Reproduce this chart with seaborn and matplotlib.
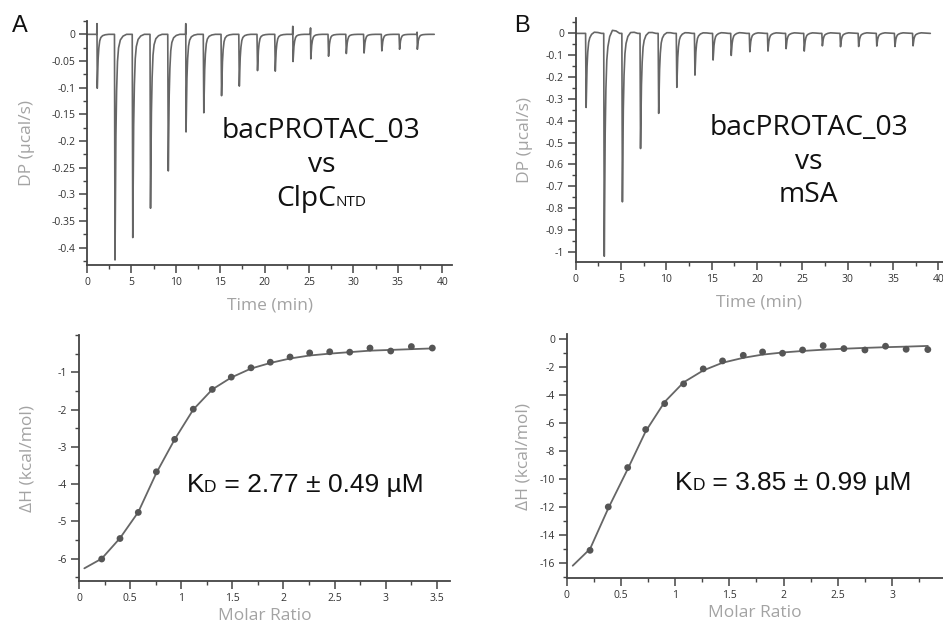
import numpy as np
import pandas as pd
import seaborn as sns
import matplotlib.pyplot as plt
from matplotlib.ticker import MultipleLocator, FuncFormatter
from matplotlib.offsetbox import TextArea, HPacker, VPacker, AnnotationBbox

sns.set_style('ticks')
plt.rcParams['font.family'] = ['Open Sans', 'DejaVu Sans']

# ---- raw thermograms (DP vs time) ----
# injection times in min (same protocol for both runs)
inj_time = [1.15, 3.15, 5.15, 7.15, 9.15, 11.15, 13.15, 15.15, 17.15, 19.2,
            21.2, 23.2, 25.2, 27.2, 29.2, 31.2, 33.2, 35.2, 37.2]
# depth of each injection peak, µcal/s
peak_A = [-0.101, -0.423, -0.381, -0.326, -0.256, -0.183, -0.147, -0.115, -0.097, -0.068,
          -0.069, -0.051, -0.046, -0.041, -0.036, -0.035, -0.031, -0.028, -0.028]
peak_B = [-0.339, -1.02, -0.771, -0.527, -0.366, -0.247, -0.191, -0.122, -0.101, -0.084,
          -0.081, -0.070, -0.081, -0.057, -0.061, -0.060, -0.058, -0.060, -0.057]
# small upward blip right before an injection (A) / overshoot after a peak (B)
spike_A = [0.02, 0, 0, 0, 0, 0.02, 0, 0, 0, 0, 0, 0.015, 0.012, 0, 0, 0, 0, 0, 0.004]
bump_B = [0.008, 0.022, 0.01, 0.008, 0.006, 0.005, 0.004, 0.004, 0.004, 0.003,
          0.003, 0.003, 0.003, 0.003, 0.003, 0.003, 0.003, 0.003, 0.003]
# shape of a single peak: min after injection -> fraction of depth
shape_dt = [-0.06, 0.0, 0.05, 0.10, 0.18, 0.28, 0.40, 0.60, 0.90, 1.3, 1.7]
shape_frac = [0.0, 1.0, 0.70, 0.45, 0.25, 0.12, 0.06, 0.025, 0.008, 0.0, 0.0]
shape_bump = [0.0, 0.0, 0.0, 0.0, 0.0, 0.0, 0.0, 0.5, 1.0, 0.5, 0.0]
trace_end = 39.1

# ---- integrated heats (isotherms) ----
ratio_A = [0.222, 0.401, 0.580, 0.757, 0.936, 1.118, 1.304, 1.490, 1.683, 1.872,
           2.065, 2.257, 2.453, 2.649, 2.847, 3.050, 3.252, 3.457]
dH_A = [-6.01, -5.46, -4.76, -3.67, -2.80, -1.99, -1.46, -1.13, -0.88, -0.73,
        -0.59, -0.48, -0.45, -0.46, -0.35, -0.43, -0.31, -0.35]
fit_x_A = [0.052] + ratio_A
fit_y_A = [-6.26, -6.0, -5.45, -4.75, -3.7, -2.8, -2.0, -1.46, -1.14, -0.9,
           -0.75, -0.63, -0.55, -0.5, -0.46, -0.42, -0.4, -0.38, -0.36]

ratio_B = [0.215, 0.383, 0.562, 0.728, 0.903, 1.078, 1.259, 1.437, 1.628, 1.806,
           1.990, 2.175, 2.365, 2.556, 2.750, 2.940, 3.130, 3.330]
dH_B = [-15.1, -12.0, -9.19, -6.47, -4.62, -3.21, -2.14, -1.57, -1.17, -0.93,
        -1.02, -0.79, -0.48, -0.69, -0.79, -0.52, -0.74, -0.76]
fit_x_B = [0.055] + ratio_B
fit_y_B = [-16.2, -15.0, -12.1, -9.3, -6.6, -4.5, -3.1, -2.25, -1.7, -1.35,
           -1.12, -0.97, -0.86, -0.77, -0.7, -0.64, -0.59, -0.55, -0.5]

line_col = '#666666'
label_col = '#a3a3a3'
tick_col = '#333333'


def build_trace(depths, pre=None, bumps=None):
    t, y = [0.0], [0.0]
    for i, t0 in enumerate(inj_time):
        for k, (dt, fr) in enumerate(zip(shape_dt, shape_frac)):
            if k == 1 and pre is not None and pre[i] > 0:
                t.append(t0 - 0.03)
                y.append(pre[i])
            val = depths[i] * fr
            if bumps is not None:
                val += bumps[i] * shape_bump[k]
            t.append(t0 + dt)
            y.append(val)
    t.append(trace_end)
    y.append(0.0)
    return pd.DataFrame({'time': t, 'dp': y})


def style_axis(ax, xlabel, ylabel, ypad, xpad=7):
    sns.despine(ax=ax)
    for s in ['left', 'bottom']:
        ax.spines[s].set_color('#444444')
        ax.spines[s].set_linewidth(1.3)
    ax.tick_params(which='major', direction='out', length=5.5, width=1.1,
                   color='#444444', labelcolor=tick_col, labelsize=7.5, pad=3)
    ax.tick_params(which='minor', direction='out', length=3, width=1.0, color='#444444')
    ax.xaxis.set_major_formatter(FuncFormatter(lambda v, p: '{:g}'.format(round(v, 3))))
    ax.yaxis.set_major_formatter(FuncFormatter(lambda v, p: '{:g}'.format(round(v, 3))))
    ax.set_xlabel(xlabel, color=label_col, fontsize=12.5, labelpad=xpad)
    ax.set_ylabel(ylabel, color=label_col, fontsize=12.5, labelpad=ypad)


def title_box(ax, x, y, target):
    main = dict(fontsize=20.3, color='#111111', family='Open Sans')
    parts = [TextArea('bacPROTAC_03', textprops=main),
             TextArea('vs', textprops=main)]
    if target == 'ClpC':
        sub = HPacker(children=[TextArea('ClpC', textprops=main),
                                TextArea('NTD', textprops=dict(fontsize=11, color='#111111', family='Open Sans'))],
                      align='baseline', pad=0, sep=0)
        parts.append(sub)
    else:
        parts.append(TextArea(target, textprops=main))
    box = VPacker(children=parts, align='center', pad=0, sep=4)
    ab = AnnotationBbox(box, (x, y), xycoords='data', frameon=False, box_alignment=(0.5, 0.5))
    ax.add_artist(ab)


def kd_box(ax, x, y, text):
    big = dict(fontsize=19, color='#111111', family='Liberation Sans')
    small = dict(fontsize=12.5, color='#111111', family='Liberation Sans')
    box = HPacker(children=[TextArea('K', textprops=big), TextArea('D', textprops=small),
                            TextArea(text, textprops=big)],
                  align='baseline', pad=0, sep=0)
    ab = AnnotationBbox(box, (x, y), xycoords='data', frameon=False, box_alignment=(0.5, 0.5))
    ax.add_artist(ab)


fig = plt.figure(figsize=(9.43, 6.25), dpi=100)
axA1 = fig.add_axes([0.0923, 0.576, 0.387, 0.3904])
axB1 = fig.add_axes([0.6105, 0.5803, 0.3895, 0.3904])
axA2 = fig.add_axes([0.0838, 0.0704, 0.3934, 0.3936])
axB2 = fig.add_axes([0.601, 0.0747, 0.399, 0.3904])

# thermogram A
trA = build_trace(peak_A, pre=spike_A)
sns.lineplot(data=trA, x='time', y='dp', ax=axA1, color=line_col, lw=1.2,
             estimator=None, sort=False)
axA1.set_xlim(0, 41.1)
axA1.set_ylim(-0.4325, 0.025)
axA1.xaxis.set_major_locator(MultipleLocator(5))
axA1.xaxis.set_minor_locator(MultipleLocator(2.5))
axA1.yaxis.set_major_locator(MultipleLocator(0.05))
axA1.yaxis.set_minor_locator(MultipleLocator(0.025))
style_axis(axA1, 'Time (min)', 'DP (µcal/s)', 12)
title_box(axA1, 26.4, -0.245, 'ClpC')

# thermogram B
trB = build_trace(peak_B, bumps=bump_B)
sns.lineplot(data=trB, x='time', y='dp', ax=axB1, color=line_col, lw=1.2,
             estimator=None, sort=False)
axB1.set_xlim(0, 40.5)
axB1.set_ylim(-1.048, 0.069)
axB1.xaxis.set_major_locator(MultipleLocator(5))
axB1.xaxis.set_minor_locator(MultipleLocator(2.5))
axB1.yaxis.set_major_locator(MultipleLocator(0.1))
axB1.yaxis.set_minor_locator(MultipleLocator(0.05))
style_axis(axB1, 'Time (min)', 'DP (µcal/s)', 9)
title_box(axB1, 25.7, -0.588, 'mSA')

# isotherm A
sns.lineplot(x=fit_x_A, y=fit_y_A, ax=axA2, color=line_col, lw=1.3, estimator=None, sort=False)
sns.scatterplot(x=ratio_A, y=dH_A, ax=axA2, color='#555555', s=24, edgecolor='none', zorder=3)
axA2.set_xlim(0, 3.63)
axA2.set_ylim(-6.6, 0.0)
axA2.set_yticks([-6, -5, -4, -3, -2, -1])
axA2.xaxis.set_major_locator(MultipleLocator(0.5))
axA2.xaxis.set_minor_locator(MultipleLocator(0.25))
axA2.yaxis.set_minor_locator(MultipleLocator(0.5))
style_axis(axA2, 'Molar Ratio', 'ΔH (kcal/mol)', 16, xpad=3)
kd_box(axA2, 2.21, -4.02, ' = 2.77 ± 0.49 µM')

# isotherm B
sns.lineplot(x=fit_x_B, y=fit_y_B, ax=axB2, color=line_col, lw=1.3, estimator=None, sort=False)
sns.scatterplot(x=ratio_B, y=dH_B, ax=axB2, color='#555555', s=24, edgecolor='none', zorder=3)
axB2.set_xlim(0, 3.47)
axB2.set_ylim(-17.1, 0.33)
axB2.xaxis.set_major_locator(MultipleLocator(0.5))
axB2.xaxis.set_minor_locator(MultipleLocator(0.25))
axB2.yaxis.set_major_locator(MultipleLocator(2))
axB2.yaxis.set_minor_locator(MultipleLocator(1))
style_axis(axB2, 'Molar Ratio', 'ΔH (kcal/mol)', 6, xpad=3)
kd_box(axB2, 2.09, -10.26, ' = 3.85 ± 0.99 µM')

fig.text(0.0127, 0.958, 'A', fontsize=17, family='Liberation Sans', color='#111111', va='center')
fig.text(0.5455, 0.958, 'B', fontsize=17, family='Liberation Sans', color='#111111', va='center')

fig.savefig('out.png', dpi=100)
